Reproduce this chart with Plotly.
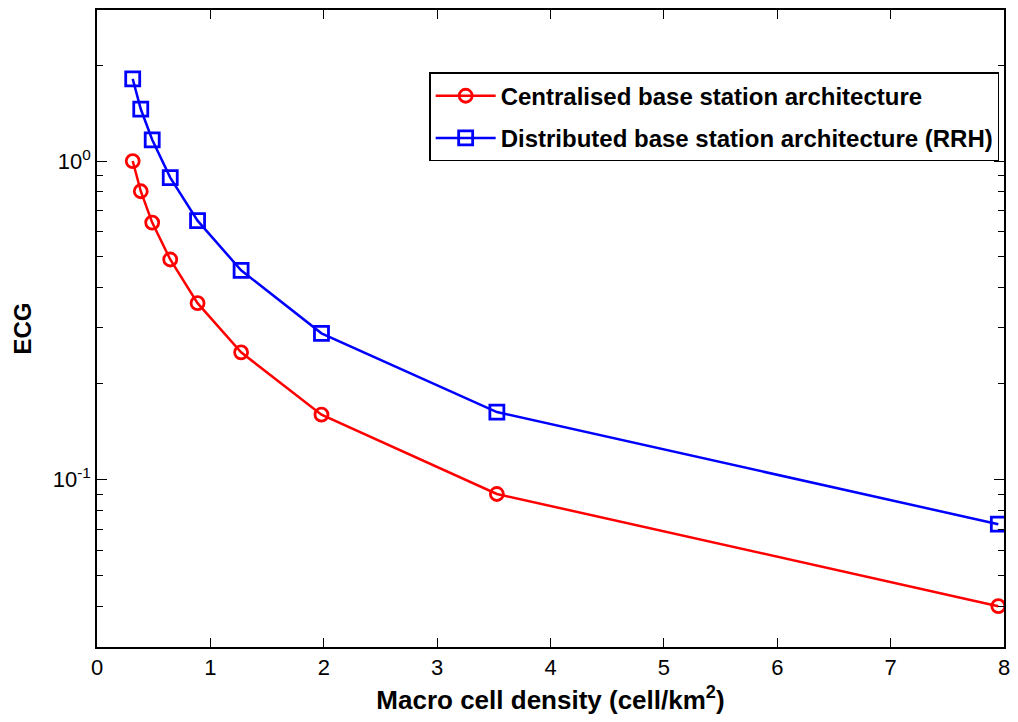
import plotly.graph_objects as go

density = [0.315, 0.386, 0.487, 0.646, 0.887, 1.271, 1.98, 3.527, 7.95]
ecg_central = [1.0, 0.804, 0.641, 0.491, 0.358, 0.251, 0.160, 0.0902, 0.0401]
ecg_distributed = [1.81, 1.456, 1.166, 0.887, 0.65, 0.454, 0.288, 0.163, 0.0725]
name_central = "Centralised base station architecture"
name_distributed = "Distributed base station architecture (RRH)"

x_ticks = [0, 1, 2, 3, 4, 5, 6, 7, 8]
y_ticks = [0.1, 1]
y_ticktext = ["10<sup>-1</sup>", "10<sup>0</sup>"]
y_minor = [0.03, 0.04, 0.05, 0.06, 0.07, 0.08, 0.09,
           0.2, 0.3, 0.4, 0.5, 0.6, 0.7, 0.8, 0.9, 2, 3]

FONT = "Liberation Sans, Arial, sans-serif"

fig = go.Figure()
fig.add_trace(go.Scatter(
    x=density, y=ecg_central, name=name_central, mode="lines+markers",
    legendgroup="c",
    line=dict(color="#ff0000", width=2.5),
    marker=dict(symbol="circle-open", size=13, color="#ff0000", line=dict(width=2.8)),
))
fig.add_trace(go.Scatter(
    x=density, y=ecg_distributed, name=name_distributed, mode="lines+markers",
    legendgroup="d",
    line=dict(color="#0000ff", width=2.5),
    marker=dict(symbol="square-open", size=14, color="#0000ff", line=dict(width=2.8)),
))

fig.update_layout(
    width=1018, height=722,
    margin=dict(l=97, r=10, t=8, b=75),
    paper_bgcolor="white", plot_bgcolor="white",
    font=dict(family=FONT, size=20, color="black"),
    showlegend=True,
    legend=dict(
        x=0.995, y=0.902, xanchor="right", yanchor="top",
        bordercolor="black", borderwidth=1.2, bgcolor="white",
        font=dict(family=FONT, size=24, color="black", weight="bold"),
        tracegroupgap=8, itemwidth=60,
    ),
)
fig.update_xaxes(
    range=[0, 8], tickmode="array", tickvals=x_ticks,
    ticks="inside", ticklen=9, tickwidth=1, tickcolor="black",
    showline=True, linecolor="black", linewidth=1.5, mirror="ticks",
    showgrid=False, zeroline=False,
    tickfont=dict(family=FONT, size=22),
    title=dict(text="Macro cell density (cell/km<sup>2</sup>)",
               font=dict(family=FONT, size=26, weight="bold"), standoff=12),
)
fig.update_yaxes(
    type="log", range=[-1.525, 0.474],
    tickmode="array", tickvals=y_ticks, ticktext=y_ticktext,
    ticks="inside", ticklen=10, tickwidth=1, tickcolor="black",
    minor=dict(tickmode="array", tickvals=y_minor, ticks="inside",
               ticklen=6, tickwidth=1, tickcolor="black", showgrid=False),
    showline=True, linecolor="black", linewidth=1.5, mirror="ticks",
    showgrid=False, zeroline=False,
    tickfont=dict(family=FONT, size=22),
    title=dict(text="ECG", font=dict(family=FONT, size=24, weight="bold"), standoff=14),
)

fig.write_html("out.html")
